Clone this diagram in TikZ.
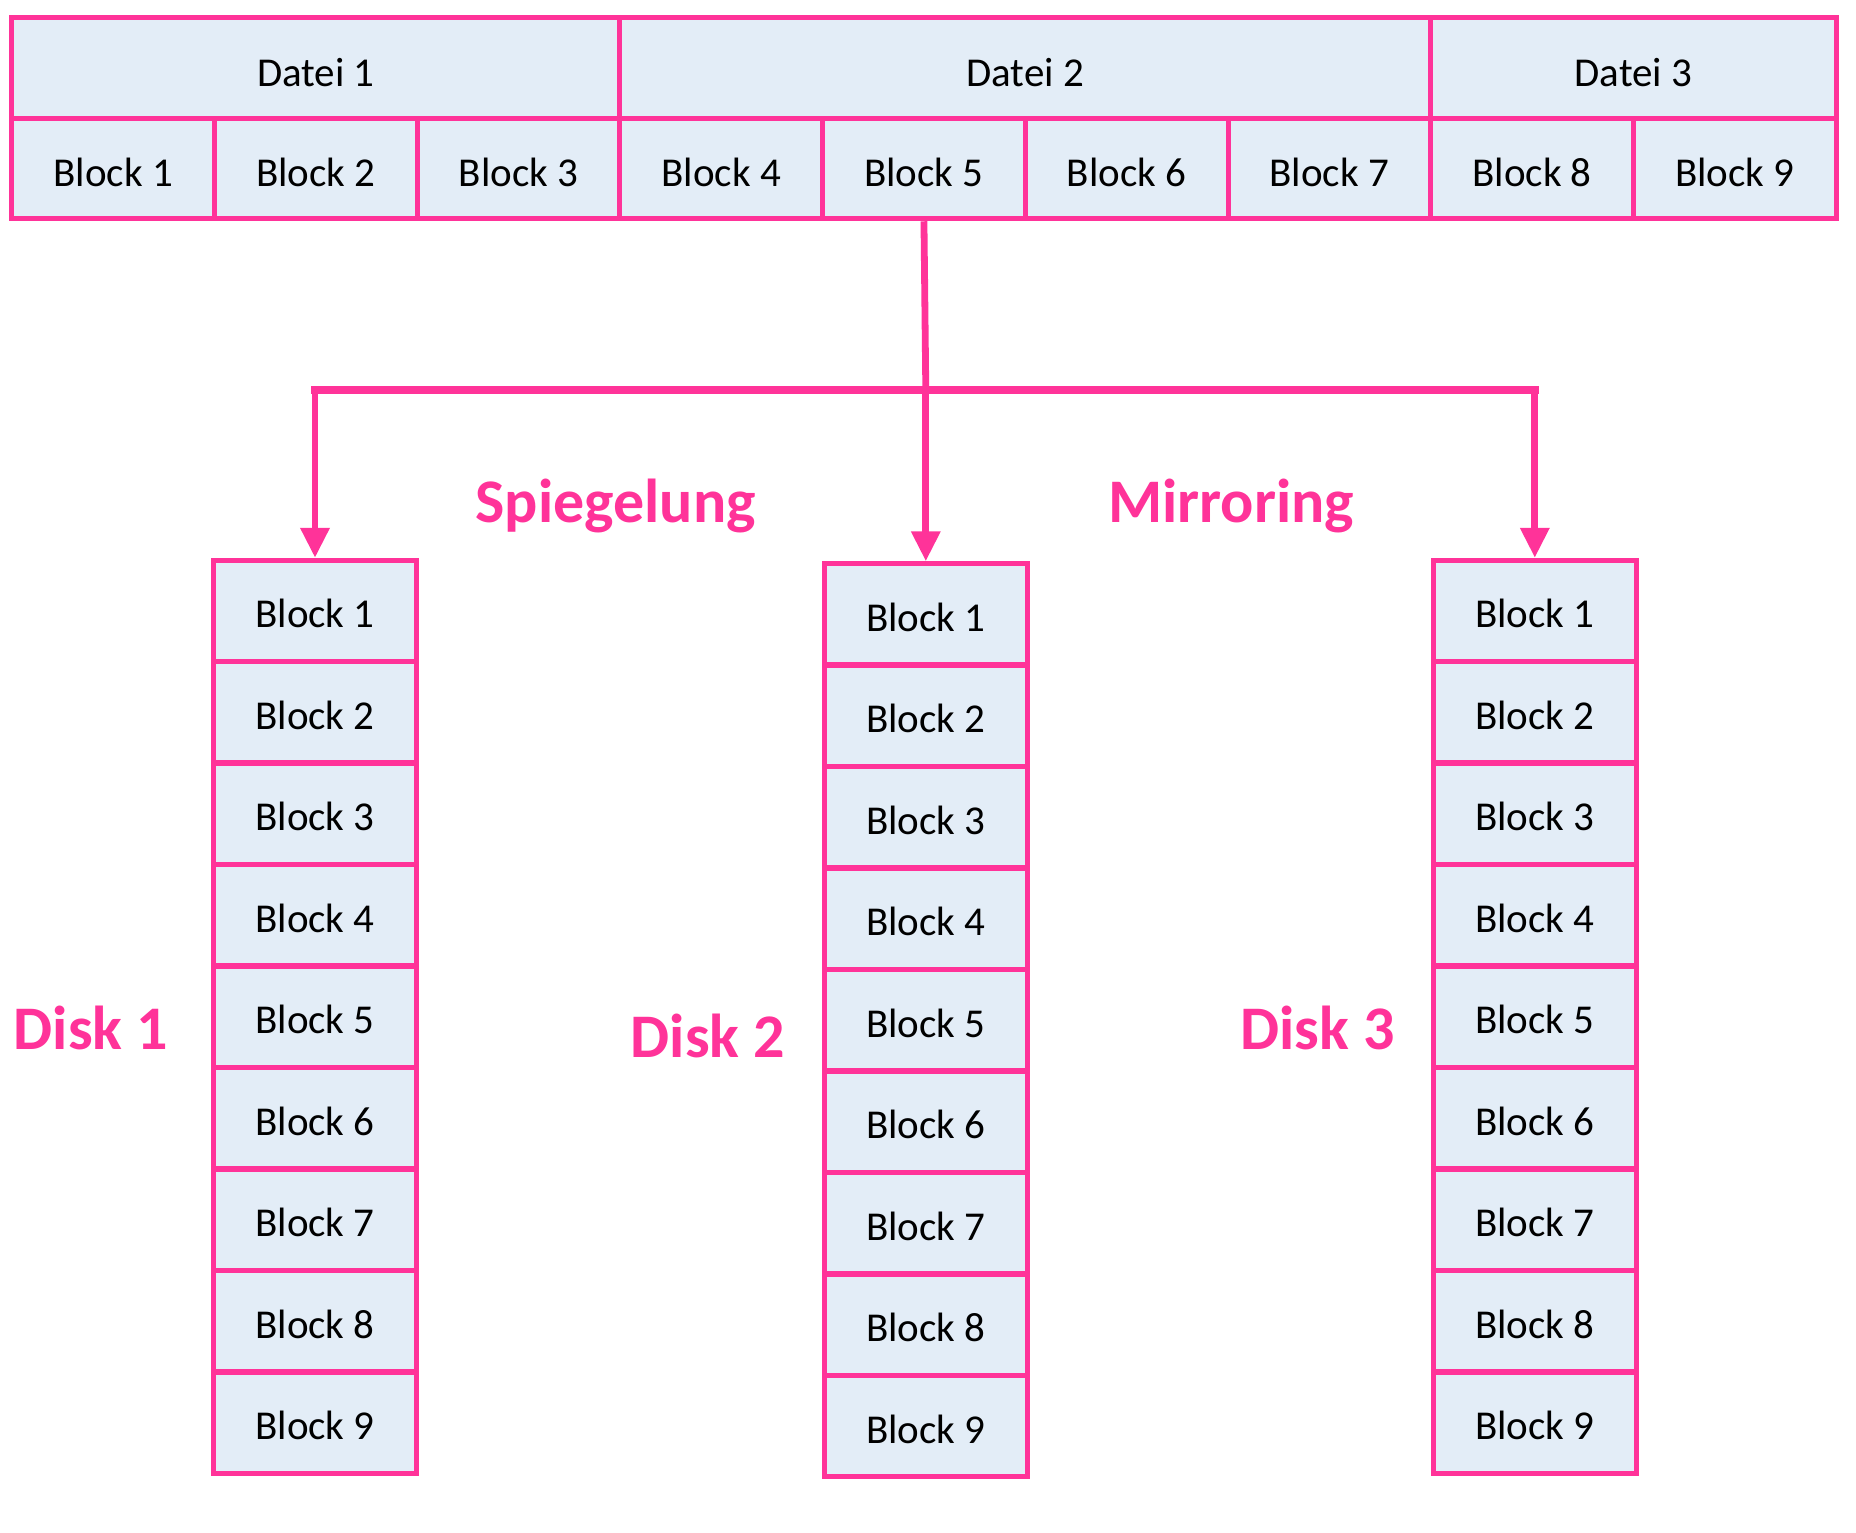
\documentclass[tikz,border=0pt]{standalone}
\usepackage{fontspec}
\setmainfont{Carlito}
\usetikzlibrary{arrows.meta}
\definecolor{mypink}{HTML}{FF3399}
\definecolor{cellfill}{HTML}{E3EDF7}
\begin{document}
\begin{tikzpicture}[x=0.5pt,y=-0.5pt,
  cell/.style={draw=mypink, fill=cellfill, line width=2.5pt, minimum width=101.35pt, minimum height=50.5pt, inner sep=0pt, font=\fontsize{20.5}{24}\selectfont, text=black, text height=17pt, text depth=0pt},
  filecell/.style={cell, minimum height=50.25pt, text height=18pt},
  conn/.style={draw=mypink, line width=3.4pt},
  arr/.style={conn, -{Triangle[length=15pt,width=14pt]}},
  lbl/.style={text=mypink, font=\fontsize{31}{36}\selectfont\bfseries, inner sep=0pt}]
\useasboundingbox (0,0) rectangle (1856,1532);
% top table
\node[filecell, minimum width=304pt] (f1) at ({11.8+202.7*1.5},68) {Datei 1};
\node[filecell, minimum width=405.4pt] (f2) at ({11.8+202.7*5},68) {Datei 2};
\node[filecell, minimum width=202.7pt] (f3) at ({11.8+202.7*8},68) {Datei 3};
\foreach \i in {1,...,9}
  \node[filecell] (t\i) at ({11.8+202.7*(\i-0.5)},168.5) {Block \i};
% disks
\foreach \d/\x/\y in {1/315/560, 2/925.8/563.5, 3/1534.8/560}
  \foreach \i in {1,...,9}
    \node[cell] (d\d b\i) at (\x,{\y+101.5*(\i-0.5)}) {Block \i};
% connectors
\coordinate (hub) at (925.8,390);
\coordinate (hl) at (315,390);
\coordinate (hr) at (1534.8,390);
\draw[conn] (t5.south) -- (hub);
\draw[conn, line width=4.2pt, line cap=rect] (hl) -- (hr);
\draw[arr] (hl) -- (d1b1.north);
\draw[arr] (hub) -- (d2b1.north);
\draw[arr] (hr) -- (d3b1.north);
% labels
\node[lbl] (spieg) at (615.5,506) {Spiegelung};
\node[lbl] (mirr) at (1231,506) {Mirroring};
\node[lbl] (disk1) at (91,1028) {Disk 1};
\node[lbl] (disk2) at (708,1036) {Disk 2};
\node[lbl] (disk3) at (1317.5,1028) {Disk 3};
\end{tikzpicture}
\end{document}
